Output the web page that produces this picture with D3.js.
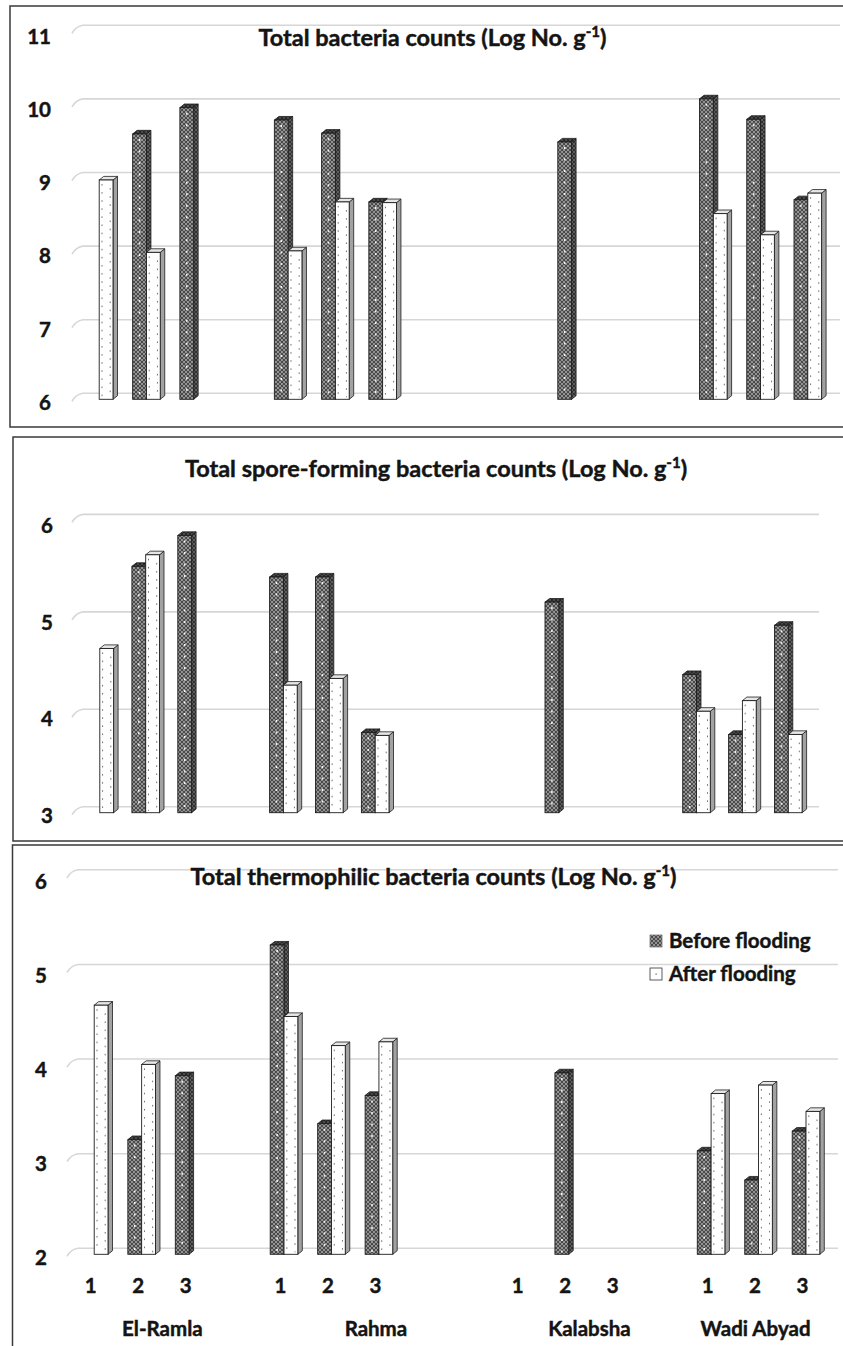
<!DOCTYPE html>
<html><head><meta charset="utf-8">
<script src="https://cdn.jsdelivr.net/npm/d3@7"></script>
<style>
html,body{margin:0;padding:0;background:#fff;}
svg{display:block;}
text{font-family:Lato,"Open Sans",sans-serif;font-weight:bold;fill:#141414;stroke:#141414;stroke-width:0.45px;}
</style>
</head><body>
<svg id="chart" width="843" height="1346"></svg>
<script>
// ---------------- DATA ----------------
// category slots (outer site / inner sample number, blanks are empty slots of the Excel axis)
const slotSite   = ["El-Ramla","El-Ramla","El-Ramla","El-Ramla",
                    "Rahma","Rahma","Rahma","Rahma","Rahma",
                    "Kalabsha","Kalabsha","Kalabsha","Kalabsha",
                    "Wadi Abyad","Wadi Abyad","Wadi Abyad"];
const slotSample = ["1","2","3","", "1","2","3","","", "1","2","3","", "1","2","3"];
const sites = ["El-Ramla","Rahma","Kalabsha","Wadi Abyad"];
const seriesNames = ["Before flooding","After flooding"];

// Total bacteria counts (Log No. g-1)
const totalBefore  = [null,9.63,9.99,null, 9.82,9.64,8.70,null,null, null,9.52,null,null, 10.11,9.83,8.73];
const totalAfter   = [9.00,8.01,null,null, 8.03,8.70,8.69,null,null, null,null,null,null, 8.54,8.25,8.82];
const totalTicks   = [6,7,8,9,10,11];

// Total spore-forming bacteria counts
const sporeBefore  = [null,5.55,5.87,null, 5.44,5.44,3.83,null,null, null,5.18,null,null, 4.43,3.81,4.94];
const sporeAfter   = [4.70,5.67,null,null, 4.32,4.39,3.80,null,null, null,null,null,null, 4.05,4.16,3.81];
const sporeTicks   = [3,4,5,6];

// Total thermophilic bacteria counts
const thermoBefore = [null,3.22,3.90,null, 5.29,3.39,3.69,null,null, null,3.93,null,null, 3.10,2.79,3.31];
const thermoAfter  = [4.65,4.02,null,null, 4.53,4.22,4.26,null,null, null,null,null,null, 3.71,3.80,3.52];
const thermoTicks  = [2,3,4,5,6];

const titles = ["Total bacteria counts (Log No. g",
                "Total spore-forming bacteria counts (Log No. g",
                "Total thermophilic bacteria counts (Log No. g"];

// ---------------- LAYOUT ----------------
const panels = [
  {title:titles[0], before:totalBefore, after:totalAfter, ticks:totalTicks,
   box:[10,6,427], yRange:[399.3,33.8], xRange:[99.2,807.8], grid:[83,840], labelX:51,
   titleX:432.5, titleY:46},
  {title:titles[1], before:sporeBefore, after:sporeAfter, ticks:sporeTicks,
   box:[13,437,841], yRange:[812.7,522.9], xRange:[99.8,788.3], grid:[83,819], labelX:53,
   titleX:436, titleY:477},
  {title:titles[2], before:thermoBefore, after:thermoAfter, ticks:thermoTicks,
   box:[12.5,845,1360], yRange:[1254.3,878.3], xRange:[94.2,806], grid:[78,838], labelX:47,
   titleX:433.5, titleY:885, xAxis:true, legend:true}
];

const W = 13.8, DX = 4.5, DY = 3.6;
const svg = d3.select("#chart");
const defs = svg.append("defs");

function hatch(id, bg, fg){
  const p = defs.append("pattern").attr("id",id).attr("patternUnits","userSpaceOnUse")
    .attr("width",4).attr("height",4);
  p.append("rect").attr("width",4).attr("height",4).attr("fill",bg);
  p.append("path").attr("d","M0,0 L4,4 M4,0 L0,4").attr("stroke",fg).attr("stroke-width",0.9);
}
hatch("pBefore","#939393","#424242");
hatch("pBeforeSide","#5e5e5e","#2c2c2c");
hatch("pBeforeTop","#4a4a4a","#222");

panels.forEach(cfg => {
  const g = svg.append("g");
  const [bx, by, bb] = cfg.box;
  g.append("rect").attr("x",bx).attr("y",by).attr("width",900).attr("height",bb-by)
    .attr("fill","none").attr("stroke","#3a3a3a").attr("stroke-width",1.5);

  const slots = d3.range(slotSite.length);
  const dom = [d3.min(cfg.ticks), d3.max(cfg.ticks)];
  const x = d3.scalePoint().domain(slots).range(cfg.xRange);
  const y = d3.scaleLinear().domain(dom).range(cfg.yRange);
  const yb = d3.scaleLinear().domain(dom).range([cfg.yRange[0]-6, cfg.yRange[1]-8.5]);

  // gridlines (back wall) with floor diagonal
  g.append("g").selectAll("path").data(cfg.ticks).join("path")
    .attr("d", v => {
      const gy = yb(v), x0 = cfg.grid[0];
      return `M${x0-11},${gy+8} Q${x0-7},${gy+1} ${x0},${gy} L${cfg.grid[1]},${gy}`;
    })
    .attr("fill","none").attr("stroke","#d6d6d6").attr("stroke-width",1.6);

  // y axis labels
  const ax = g.append("g").attr("transform",`translate(${cfg.labelX},2.5)`)
    .call(d3.axisLeft(y).tickValues(cfg.ticks).tickSize(0).tickPadding(0).tickFormat(d3.format("d")));
  ax.select(".domain").remove();
  ax.attr("font-family",null).attr("font-size",null);
  ax.selectAll("text").attr("font-size",20.5).attr("fill","#141414").attr("dy","0.36em");

  // title
  const t = g.append("text").attr("x",cfg.titleX).attr("y",cfg.titleY)
    .attr("text-anchor","middle").attr("font-size",23.5);
  t.append("tspan").text(cfg.title);
  t.append("tspan").attr("font-size",15).attr("dy",-9).text("-1");
  t.append("tspan").attr("dy",9).text(")");

  // bars
  const bars = [];
  slots.forEach(i => {
    if (cfg.before[i] != null) bars.push({i, v:cfg.before[i], s:0});
    if (cfg.after[i]  != null) bars.push({i, v:cfg.after[i],  s:1});
  });
  const y0 = y(dom[0]);
  const bg = g.append("g").selectAll("g").data(bars).join("g");
  bg.each(function(d){
    const e = d3.select(this);
    const xl = d.s === 0 ? x(d.i) - W : x(d.i);
    const y1 = y(d.v);
    const stroke = "#1e1e1e";
    e.append("polygon")
      .attr("points",[[xl+W,y1],[xl+W+DX,y1-DY],[xl+W+DX,y0-DY],[xl+W,y0]].map(p=>p.join(",")).join(" "))
      .attr("fill", d.s===0 ? "url(#pBeforeSide)" : "#a2a2a2")
      .attr("stroke",stroke).attr("stroke-width",0.8).attr("stroke-linejoin","round");
    e.append("polygon")
      .attr("points",[[xl,y1],[xl+DX,y1-DY],[xl+W+DX,y1-DY],[xl+W,y1]].map(p=>p.join(",")).join(" "))
      .attr("fill", d.s===0 ? "url(#pBeforeTop)" : "#e6e6e6")
      .attr("stroke",stroke).attr("stroke-width",0.8).attr("stroke-linejoin","round");
    e.append("rect").attr("x",xl).attr("y",y1).attr("width",W).attr("height",y0-y1)
      .attr("fill", d.s===0 ? "url(#pBefore)" : "#ffffff")
      .attr("stroke",stroke).attr("stroke-width",0.9);
    if (d.s === 0) {
      e.append("line").attr("x1",xl+W/2).attr("x2",xl+W/2).attr("y1",y1+5).attr("y2",y0-2)
        .attr("stroke","#f4f4f4").attr("stroke-width",1.6).attr("stroke-dasharray","2,9.5");
    } else {
      e.append("line").attr("x1",xl+2.8).attr("x2",xl+2.8).attr("y1",y1+4).attr("y2",y0-2)
        .attr("stroke","#707070").attr("stroke-width",1).attr("stroke-dasharray","1.6,6.5");
      e.append("line").attr("x1",xl+W-2.8).attr("x2",xl+W-2.8).attr("y1",y1+4).attr("y2",y0-2)
        .attr("stroke","#707070").attr("stroke-width",1).attr("stroke-dasharray","1.6,6.5")
        .attr("stroke-dashoffset",4);
    }
  });

  if (cfg.xAxis) {
    const xa = g.append("g").attr("transform","translate(-4,1278)")
      .call(d3.axisBottom(x).tickSize(0).tickPadding(0).tickFormat(i => slotSample[i]));
    xa.select(".domain").remove();
    xa.attr("font-family",null).attr("font-size",null);
    xa.selectAll("text").attr("font-size",20.5).attr("fill","#141414").attr("dy","0.71em");
    g.append("g").selectAll("text").data(sites).join("text")
      .attr("x", s => d3.mean(slots.filter(i => slotSite[i] === s), i => x(i)) - 3)
      .attr("y", 1336).attr("text-anchor","middle").attr("font-size",20.5).text(s => s);
  }

  if (cfg.legend) {
    const lg = g.append("g").selectAll("g").data(seriesNames).join("g")
      .attr("transform",(d,k)=>`translate(650,${935 + k*33})`);
    lg.append("rect").attr("width",12).attr("height",12)
      .attr("fill",(d,k)=> k===0 ? "url(#pBefore)" : "#fff")
      .attr("stroke",(d,k)=> k===0 ? "#777" : "#333").attr("stroke-width",0.8);
    lg.filter((d,k)=>k===1).append("rect").attr("x",5.5).attr("y",5.5).attr("width",1.2).attr("height",1.2).attr("fill","#555");
    lg.append("text").attr("x",19).attr("y",12.5).attr("font-size",20.5).text(d=>d);
  }
});
</script>
</body></html>
